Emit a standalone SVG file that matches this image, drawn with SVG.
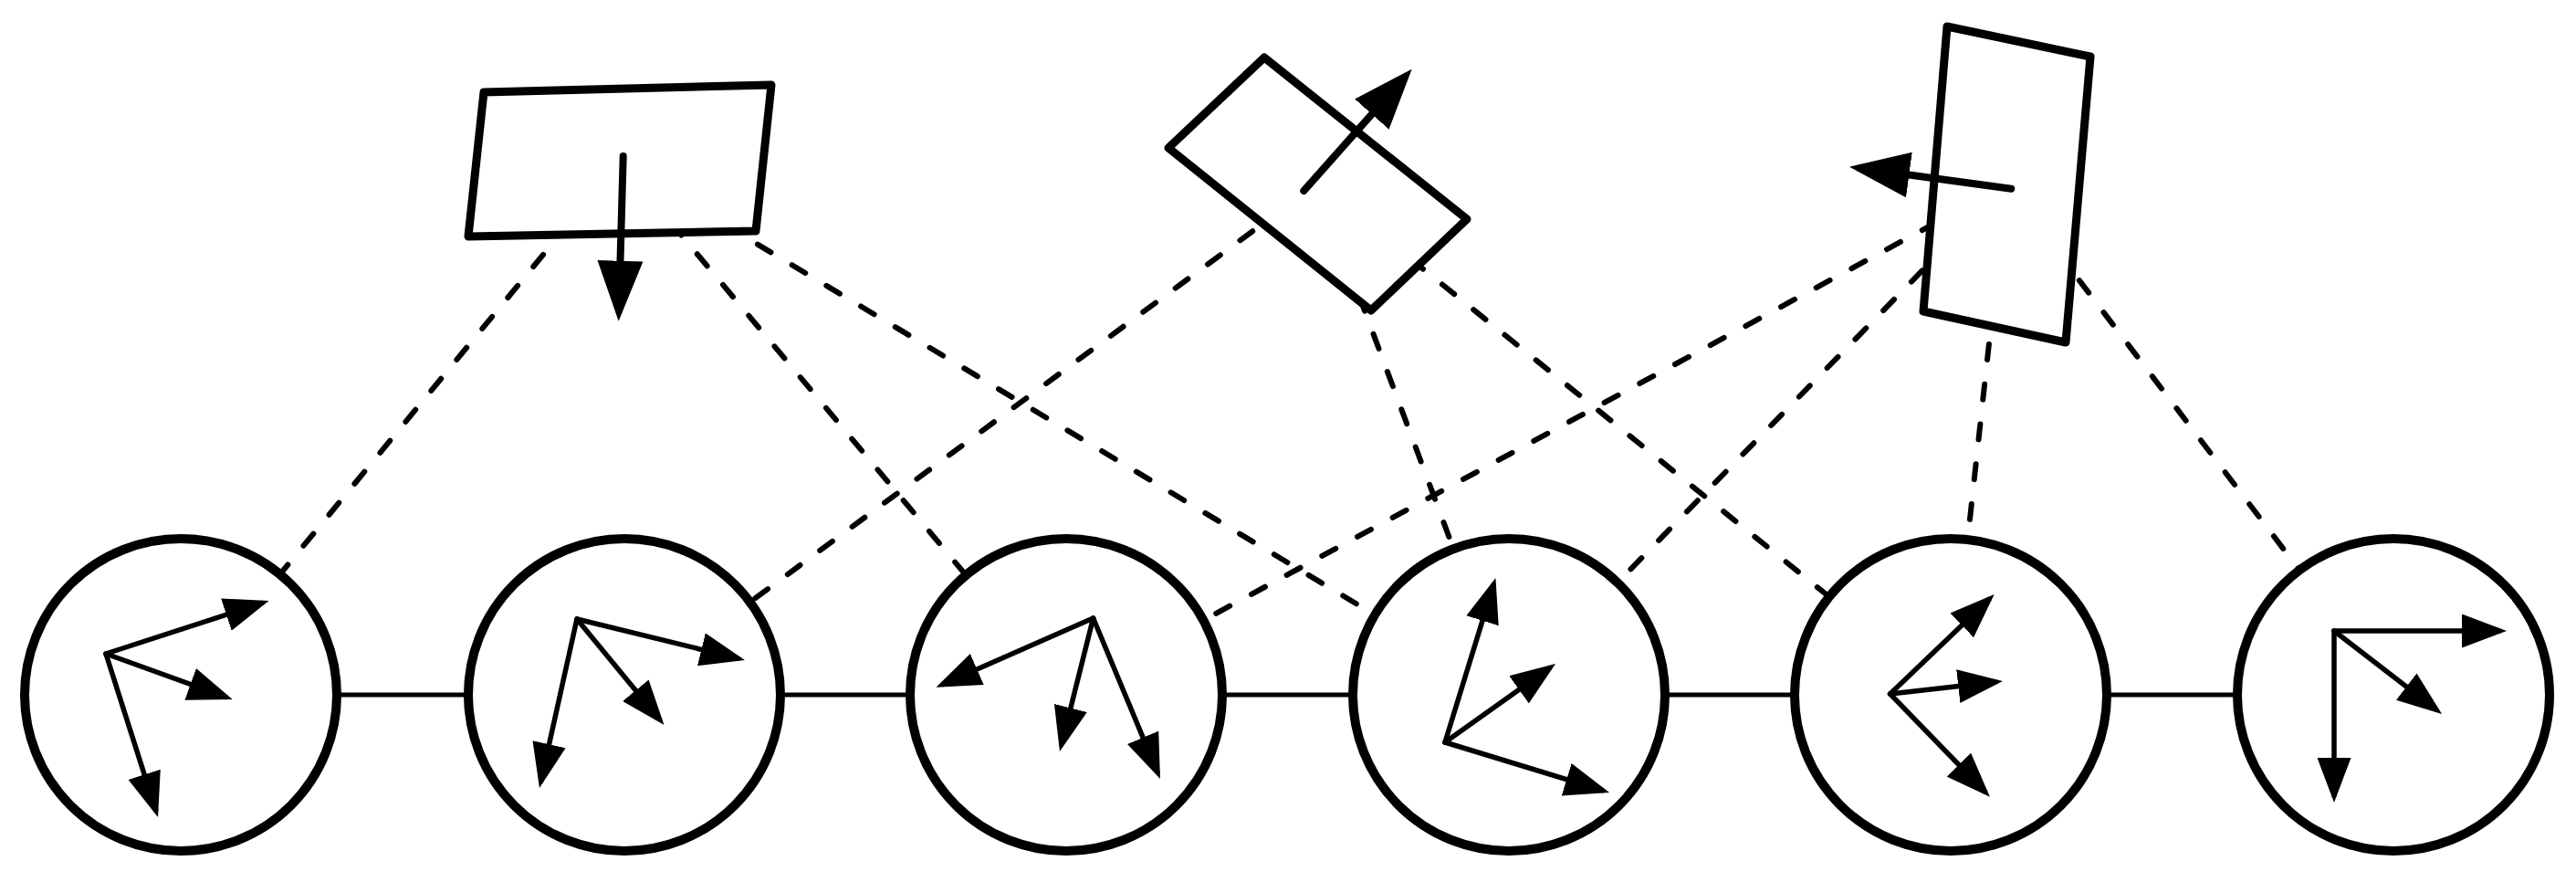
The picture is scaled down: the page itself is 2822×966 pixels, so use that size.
<svg xmlns="http://www.w3.org/2000/svg" width="2822" height="966" viewBox="0 0 2822 966">
<style>
.dash{fill:none;stroke:#000;stroke-width:6;stroke-dasharray:17 27;stroke-linecap:round}
.link{fill:none;stroke:#000;stroke-width:5}
.node{fill:#fff;stroke:#000;stroke-width:10}
.frame{fill:#fff;stroke:#000;stroke-width:9;stroke-linejoin:round}
.vec{fill:none;stroke:#000;stroke-width:5.5;stroke-linecap:round;marker-end:url(#h)}
.big{fill:none;stroke:#000;stroke-width:8;stroke-linecap:round;marker-end:url(#H)}
</style>
<defs>
<marker id="h" markerUnits="userSpaceOnUse" viewBox="0 0 49 37" refX="41" refY="18.5" markerWidth="49" markerHeight="37" orient="auto"><path d="M0,0 L49,18.5 L0,37 z" fill="#000"/></marker>
<marker id="H" markerUnits="userSpaceOnUse" viewBox="0 0 66 50" refX="54" refY="25" markerWidth="66" markerHeight="50" orient="auto"><path d="M0,0 L66,25 L0,50 z" fill="#000"/></marker>
</defs>
<rect width="2822" height="966" fill="#fff"/>
<g id="connectors">
<line class="link" x1="198" y1="761" x2="2623" y2="761"/>
<line class="dash" x1="679" y1="177" x2="198" y2="761"/>
<line class="dash" x1="679" y1="177" x2="1168" y2="761"/>
<line class="dash" x1="679" y1="177" x2="1652" y2="761"/>
<line class="dash" x1="1443" y1="201" x2="684" y2="761"/>
<line class="dash" x1="1443" y1="201" x2="1652" y2="761"/>
<line class="dash" x1="1443" y1="201" x2="2137" y2="761"/>
<line class="dash" x1="2198" y1="202" x2="1168" y2="761"/>
<line class="dash" x1="2198" y1="202" x2="1652" y2="761"/>
<line class="dash" x1="2198" y1="202" x2="2137" y2="761"/>
<line class="dash" x1="2198" y1="202" x2="2623" y2="761"/>
</g>
<g id="c1">
<circle class="node" cx="198" cy="761" r="171"/>
<line class="vec" x1="116" y1="716" x2="286.9" y2="660.5"/>
<line class="vec" x1="116" y1="716" x2="247.2" y2="763.3"/>
<line class="vec" x1="116" y1="716" x2="170.6" y2="887.4"/>
</g>
<g id="c2">
<circle class="node" cx="684" cy="761" r="171"/>
<line class="vec" x1="632" y1="678" x2="808.2" y2="721.1"/>
<line class="vec" x1="632" y1="678" x2="722.4" y2="787.8"/>
<line class="vec" x1="632" y1="678" x2="592.7" y2="855.2"/>
</g>
<g id="c3">
<circle class="node" cx="1168" cy="761" r="171"/>
<line class="vec" x1="1197.6" y1="677" x2="1032.8" y2="749.5"/>
<line class="vec" x1="1197.6" y1="677" x2="1162.9" y2="815.2"/>
<line class="vec" x1="1197.6" y1="677" x2="1267.9" y2="845.6"/>
</g>
<g id="c4">
<circle class="node" cx="1653" cy="761" r="171"/>
<line class="vec" x1="1583" y1="813" x2="1636.1" y2="640.6"/>
<line class="vec" x1="1583" y1="813" x2="1697.5" y2="731.6"/>
<line class="vec" x1="1583" y1="813" x2="1755.4" y2="865.7"/>
</g>
<g id="c5">
<circle class="node" cx="2137" cy="761" r="171"/>
<line class="vec" x1="2070.6" y1="760" x2="2178.9" y2="656.5"/>
<line class="vec" x1="2070.6" y1="760" x2="2186" y2="746.9"/>
<line class="vec" x1="2070.6" y1="760" x2="2174.4" y2="867"/>
</g>
<g id="c6">
<circle class="node" cx="2622" cy="761" r="171"/>
<line class="vec" x1="2557" y1="691" x2="2738" y2="691"/>
<line class="vec" x1="2557" y1="691" x2="2668.7" y2="777.1"/>
<line class="vec" x1="2557" y1="691" x2="2557" y2="871"/>
</g>
<g id="r1">
<polygon class="frame" points="530,101 845,93 828,253 513,259"/>
<line class="big" x1="682.7" y1="171" x2="678" y2="339.7"/>
</g>
<g id="r2">
<polygon class="frame" points="1385,63 1607,240 1502,340 1280,162"/>
<line class="big" x1="1428.3" y1="209" x2="1538.7" y2="84.7"/>
</g>
<g id="r3">
<polygon class="frame" points="2133,29 2290,62 2263,375 2107,341"/>
<line class="big" x1="2203.3" y1="206.7" x2="2037.9" y2="184.3"/>
</g>
</svg>
